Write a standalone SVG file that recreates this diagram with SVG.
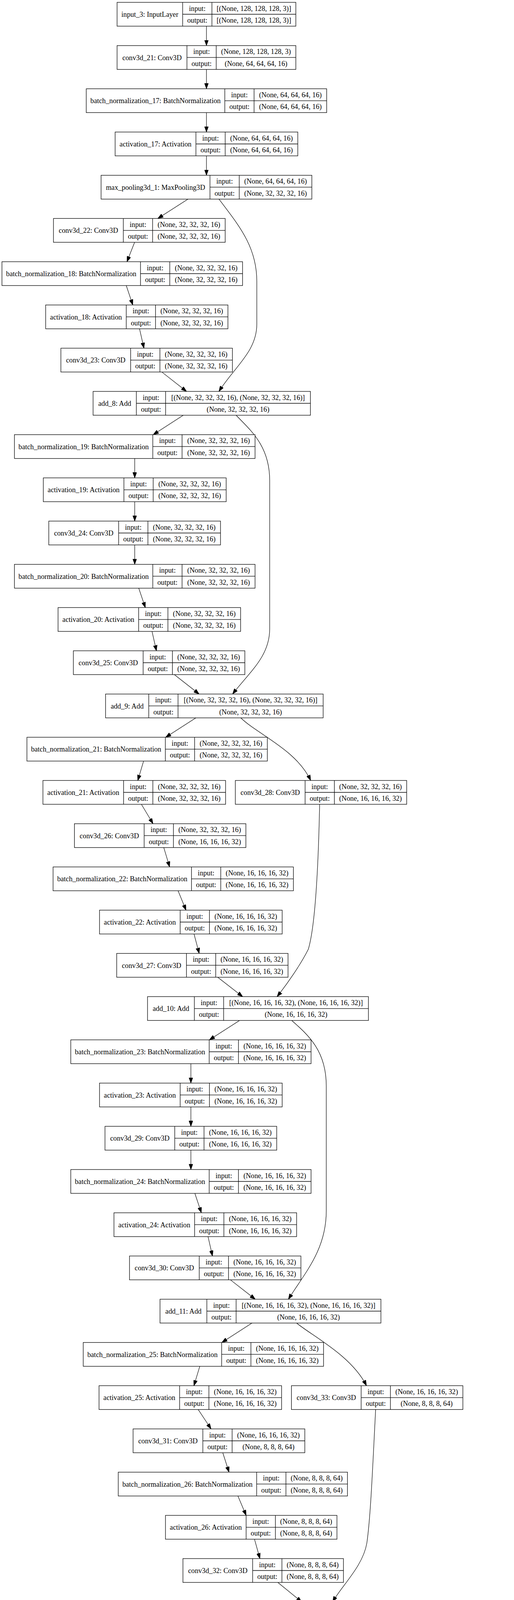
<svg xmlns="http://www.w3.org/2000/svg" width="1317" height="7045" viewBox="0 0 1317 7045">
<style>
.n rect{fill:#fff;stroke:#000;stroke-width:1.3}
.n path{fill:none;stroke:#000;stroke-width:1.3}
.e path{fill:none;stroke:#000;stroke-width:1.2;marker-end:url(#ah)}
text{font-family:"Liberation Serif","Times New Roman",serif;font-size:18.2px;text-anchor:middle;fill:#000}
</style>
<defs>
<marker id="ah" markerUnits="userSpaceOnUse" markerWidth="14" markerHeight="10" refX="14" refY="5" orient="auto" viewBox="0 0 14 10"><path d="M0,0L14,5L0,10z" fill="#000" stroke="#000" stroke-width="1"/></marker>
</defs>
<rect width="1317" height="7045" fill="#fff"/>
<g id="edges" class="e">
<path d="M529 67L529 116.7"/>
<path d="M529 177.7L529 227.3"/>
<path d="M529 288.3L529 338"/>
<path d="M529 399L529 448.7"/>
<path d="M481.6 509.7L404.4 559.3"/>
<path d="M344.9 620.3L325.3 670"/>
<path d="M323.5 731L340.2 780.7"/>
<path d="M357.5 841.7L368.8 891.4"/>
<path d="M414.7 952.4L478 1002"/>
<path d="M469.6 1063L392.6 1112.7"/>
<path d="M345.2 1173.7L345.2 1223.4"/>
<path d="M345.2 1284.4L345.2 1334"/>
<path d="M345.2 1395L345.2 1444.7"/>
<path d="M355.5 1505.7L372.3 1555.4"/>
<path d="M389.5 1616.4L400.8 1666"/>
<path d="M446.7 1727L510.2 1776.7"/>
<path d="M501.8 1837.7L424.5 1887.4"/>
<path d="M367.9 1948.4L353.1 1998"/>
<path d="M362.3 2059L392.1 2108.7"/>
<path d="M419.6 2169.7L434.6 2219.4"/>
<path d="M456.3 2280.4L476.6 2330"/>
<path d="M497.1 2391L510.4 2440.7"/>
<path d="M557.8 2501.7L621.7 2551.4"/>
<path d="M613.7 2612.4L536.5 2662"/>
<path d="M489.1 2723L489.1 2772.7"/>
<path d="M489.1 2833.7L489.1 2883.4"/>
<path d="M489.1 2944.4L489.1 2994"/>
<path d="M499.3 3055L515.9 3104.7"/>
<path d="M533 3165.7L544.4 3215.4"/>
<path d="M590.4 3276.4L654 3326"/>
<path d="M645.6 3387L568.5 3436.7"/>
<path d="M511.9 3497.7L496.9 3547.4"/>
<path d="M507.8 3608.4L540.8 3658"/>
<path d="M570.8 3719L586.8 3768.7"/>
<path d="M609.6 3829.7L630.7 3879.4"/>
<path d="M652.1 3940.4L665.9 3990"/>
<path d="M711.8 4051L772.9 4100.7"/>
<path d="M764.6 4161.7L690.2 4211.4"/>
<path d="M644.8 4272.4L644.8 4322"/>
<path d="M644.8 4383L644.8 4432.7"/>
<path d="M644.8 4493.7L644.8 4543.4"/>
<path d="M655 4604.4L672 4654"/>
<path d="M689.2 4715L700.4 4764.7"/>
<path d="M744.4 4825.7L804.8 4875.4"/>
<path d="M796.5 4936.4L722.5 4986"/>
<path d="M668.6 5047L654.8 5096.7"/>
<path d="M662.5 5157.7L688.9 5207.4"/>
<path d="M713.1 5268.4L726.1 5318"/>
<path d="M746.3 5379L766 5428.7"/>
<path d="M786.3 5489.7L799.5 5539.4"/>
<path d="M845.7 5600.4L905.9 5650"/>
<path d="M899.8 5711L824.4 5760.7"/>
<path d="M778.2 5821.7L778.2 5871.4"/>
<path d="M778.3 5932.4L778.3 5982"/>
<path d="M778.3 6043L778.3 6092.7"/>
<path d="M788.6 6153.7L805.6 6203.4"/>
<path d="M822.8 6264.4L834 6314"/>
<path d="M878.4 6375L939.6 6424.7"/>
<path d="M977 6485.7L977 6535.4"/>
<path d="M977 6596.4L977 6646"/>
<path d="M977 6707L977 6756.7"/>
<path d="M977 6817.7L977 6867.4"/>
<path d="M977 6928.4L977 6978"/>
<path d="M561 509.7C610 575 658 630 658 720L658 830C658 900 600 940 561 1002"/>
<path d="M605 1063C640 1100 691 1140 691 1230L691 1610C691 1680 640 1720 596 1776.7"/>
<path d="M617 1837.7C660 1880 760 1920 796 1998"/>
<path d="M819 2059C815 2250 805 2380 790 2430C770 2470 735 2520 710 2551.4"/>
<path d="M747.5 2612.4C790 2650 836 2690 836 2780L836 3100C836 3200 780 3260 739 3326"/>
<path d="M760 3387C800 3420 900 3470 939 3547.4"/>
<path d="M962.5 3608.4C955 3750 950 3880 940 3950C930 4010 875 4060 852.5 4100.7"/>
<path d="M893 4161.7C935 4200 978 4240 978 4320L978 4720C978 4790 920 4830 883.6 4875.4"/>
<path d="M907 4936.4C960 4980 1050 5030 1077.6 5096.7"/>
<path d="M1097 5157.7C1090 5300 1085 5450 1075 5530C1060 5590 1010 5620 989.4 5650"/>
<path d="M1029 5711C1070 5750 1115.4 5790 1115.4 5870L1115.4 6260C1115.4 6330 1050 6380 1019 6424.7"/>
</g>
<g id="input_3" class="n" transform="translate(0,6)"><rect x="300" y="0" width="458" height="61"/><path d="M468 0V61M543 0V61M468 30.5H758"/><text x="384" y="37">input_3: InputLayer</text><text x="505.5" y="21.5">input:</text><text x="505.5" y="52">output:</text><text x="650.5" y="21.5">[(None, 128, 128, 128, 3)]</text><text x="650.5" y="52">[(None, 128, 128, 128, 3)]</text></g>
<g id="conv3d_21" class="n" transform="translate(0,116.7)"><rect x="300" y="0" width="458" height="61"/><path d="M479 0V61M554 0V61M479 30.5H758"/><text x="389.5" y="37">conv3d_21: Conv3D</text><text x="516.5" y="21.5">input:</text><text x="516.5" y="52">output:</text><text x="656" y="21.5">(None, 128, 128, 128, 3)</text><text x="656" y="52">(None, 64, 64, 64, 16)</text></g>
<g id="batch_normalization_17" class="n" transform="translate(0,227.3)"><rect x="221" y="0" width="616" height="61"/><path d="M576 0V61M651 0V61M576 30.5H837"/><text x="398.5" y="37">batch_normalization_17: BatchNormalization</text><text x="613.5" y="21.5">input:</text><text x="613.5" y="52">output:</text><text x="744" y="21.5">(None, 64, 64, 64, 16)</text><text x="744" y="52">(None, 64, 64, 64, 16)</text></g>
<g id="activation_17" class="n" transform="translate(0,338)"><rect x="295" y="0" width="468" height="61"/><path d="M502 0V61M577 0V61M502 30.5H763"/><text x="398.5" y="37">activation_17: Activation</text><text x="539.5" y="21.5">input:</text><text x="539.5" y="52">output:</text><text x="670" y="21.5">(None, 64, 64, 64, 16)</text><text x="670" y="52">(None, 64, 64, 64, 16)</text></g>
<g id="max_pooling3d_1" class="n" transform="translate(0,448.7)"><rect x="259" y="0" width="540" height="61"/><path d="M538 0V61M613 0V61M538 30.5H799"/><text x="398.5" y="37">max_pooling3d_1: MaxPooling3D</text><text x="575.5" y="21.5">input:</text><text x="575.5" y="52">output:</text><text x="706" y="21.5">(None, 64, 64, 64, 16)</text><text x="706" y="52">(None, 32, 32, 32, 16)</text></g>
<g id="conv3d_22" class="n" transform="translate(0,559.3)"><rect x="137" y="0" width="440" height="61"/><path d="M316 0V61M391 0V61M316 30.5H577"/><text x="226.5" y="37">conv3d_22: Conv3D</text><text x="353.5" y="21.5">input:</text><text x="353.5" y="52">output:</text><text x="484" y="21.5">(None, 32, 32, 32, 16)</text><text x="484" y="52">(None, 32, 32, 32, 16)</text></g>
<g id="batch_normalization_18" class="n" transform="translate(0,670)"><rect x="5" y="0" width="616.5" height="61"/><path d="M360 0V61M435 0V61M360 30.5H621.5"/><text x="182.5" y="37">batch_normalization_18: BatchNormalization</text><text x="397.5" y="21.5">input:</text><text x="397.5" y="52">output:</text><text x="528.25" y="21.5">(None, 32, 32, 32, 16)</text><text x="528.25" y="52">(None, 32, 32, 32, 16)</text></g>
<g id="activation_18" class="n" transform="translate(0,780.7)"><rect x="117" y="0" width="467" height="61"/><path d="M323.5 0V61M398.5 0V61M323.5 30.5H584"/><text x="220.25" y="37">activation_18: Activation</text><text x="361" y="21.5">input:</text><text x="361" y="52">output:</text><text x="491.25" y="21.5">(None, 32, 32, 32, 16)</text><text x="491.25" y="52">(None, 32, 32, 32, 16)</text></g>
<g id="conv3d_23" class="n" transform="translate(0,891.4)"><rect x="156" y="0" width="439.5" height="61"/><path d="M334.7 0V61M409.7 0V61M334.7 30.5H595.5"/><text x="245.35" y="37">conv3d_23: Conv3D</text><text x="372.2" y="21.5">input:</text><text x="372.2" y="52">output:</text><text x="502.6" y="21.5">(None, 32, 32, 32, 16)</text><text x="502.6" y="52">(None, 32, 32, 32, 16)</text></g>
<g id="add_8" class="n" transform="translate(0,1002)"><rect x="238.5" y="0" width="556.9" height="61"/><path d="M349.4 0V61M424.4 0V61M349.4 30.5H795.4"/><text x="293.95" y="37">add_8: Add</text><text x="386.9" y="21.5">input:</text><text x="386.9" y="52">output:</text><text x="609.9" y="21.5">[(None, 32, 32, 32, 16), (None, 32, 32, 32, 16)]</text><text x="609.9" y="52">(None, 32, 32, 32, 16)</text></g>
<g id="batch_normalization_19" class="n" transform="translate(0,1112.7)"><rect x="37" y="0" width="616.5" height="61"/><path d="M391.5 0V61M466.5 0V61M391.5 30.5H653.5"/><text x="214.25" y="37">batch_normalization_19: BatchNormalization</text><text x="429" y="21.5">input:</text><text x="429" y="52">output:</text><text x="560" y="21.5">(None, 32, 32, 32, 16)</text><text x="560" y="52">(None, 32, 32, 32, 16)</text></g>
<g id="activation_19" class="n" transform="translate(0,1223.4)"><rect x="111" y="0" width="468.5" height="61"/><path d="M317.5 0V61M392.5 0V61M317.5 30.5H579.5"/><text x="214.25" y="37">activation_19: Activation</text><text x="355" y="21.5">input:</text><text x="355" y="52">output:</text><text x="486" y="21.5">(None, 32, 32, 32, 16)</text><text x="486" y="52">(None, 32, 32, 32, 16)</text></g>
<g id="conv3d_24" class="n" transform="translate(0,1334)"><rect x="125" y="0" width="440" height="61"/><path d="M304 0V61M379 0V61M304 30.5H565"/><text x="214.5" y="37">conv3d_24: Conv3D</text><text x="341.5" y="21.5">input:</text><text x="341.5" y="52">output:</text><text x="472" y="21.5">(None, 32, 32, 32, 16)</text><text x="472" y="52">(None, 32, 32, 32, 16)</text></g>
<g id="batch_normalization_20" class="n" transform="translate(0,1444.7)"><rect x="37" y="0" width="616.5" height="61"/><path d="M391.5 0V61M466.5 0V61M391.5 30.5H653.5"/><text x="214.25" y="37">batch_normalization_20: BatchNormalization</text><text x="429" y="21.5">input:</text><text x="429" y="52">output:</text><text x="560" y="21.5">(None, 32, 32, 32, 16)</text><text x="560" y="52">(None, 32, 32, 32, 16)</text></g>
<g id="activation_20" class="n" transform="translate(0,1555.4)"><rect x="148.7" y="0" width="467.8" height="61"/><path d="M355.3 0V61M430.3 0V61M355.3 30.5H616.5"/><text x="252" y="37">activation_20: Activation</text><text x="392.8" y="21.5">input:</text><text x="392.8" y="52">output:</text><text x="523.4" y="21.5">(None, 32, 32, 32, 16)</text><text x="523.4" y="52">(None, 32, 32, 32, 16)</text></g>
<g id="conv3d_25" class="n" transform="translate(0,1666)"><rect x="188" y="0" width="439.4" height="61"/><path d="M366.7 0V61M441.7 0V61M366.7 30.5H627.4"/><text x="277.35" y="37">conv3d_25: Conv3D</text><text x="404.2" y="21.5">input:</text><text x="404.2" y="52">output:</text><text x="534.55" y="21.5">(None, 32, 32, 32, 16)</text><text x="534.55" y="52">(None, 32, 32, 32, 16)</text></g>
<g id="add_9" class="n" transform="translate(0,1776.7)"><rect x="270.5" y="0" width="557.5" height="61"/><path d="M381.2 0V61M456.2 0V61M381.2 30.5H828"/><text x="325.85" y="37">add_9: Add</text><text x="418.7" y="21.5">input:</text><text x="418.7" y="52">output:</text><text x="642.1" y="21.5">[(None, 32, 32, 32, 16), (None, 32, 32, 32, 16)]</text><text x="642.1" y="52">(None, 32, 32, 32, 16)</text></g>
<g id="batch_normalization_21" class="n" transform="translate(0,1887.4)"><rect x="69" y="0" width="616" height="61"/><path d="M423.6 0V61M498.6 0V61M423.6 30.5H685"/><text x="246.3" y="37">batch_normalization_21: BatchNormalization</text><text x="461.1" y="21.5">input:</text><text x="461.1" y="52">output:</text><text x="591.8" y="21.5">(None, 32, 32, 32, 16)</text><text x="591.8" y="52">(None, 32, 32, 32, 16)</text></g>
<g id="activation_21" class="n" transform="translate(0,1998)"><rect x="110" y="0" width="468" height="61"/><path d="M316.6 0V61M391.6 0V61M316.6 30.5H578"/><text x="213.3" y="37">activation_21: Activation</text><text x="354.1" y="21.5">input:</text><text x="354.1" y="52">output:</text><text x="484.8" y="21.5">(None, 32, 32, 32, 16)</text><text x="484.8" y="52">(None, 32, 32, 32, 16)</text></g>
<g id="conv3d_28" class="n" transform="translate(0,1998)"><rect x="603" y="0" width="439" height="61"/><path d="M781.7 0V61M856.7 0V61M781.7 30.5H1042"/><text x="692.35" y="37">conv3d_28: Conv3D</text><text x="819.2" y="21.5">input:</text><text x="819.2" y="52">output:</text><text x="949.35" y="21.5">(None, 32, 32, 32, 16)</text><text x="949.35" y="52">(None, 16, 16, 16, 32)</text></g>
<g id="conv3d_26" class="n" transform="translate(0,2108.7)"><rect x="190.7" y="0" width="439.3" height="61"/><path d="M369.4 0V61M444.4 0V61M369.4 30.5H630"/><text x="280.05" y="37">conv3d_26: Conv3D</text><text x="406.9" y="21.5">input:</text><text x="406.9" y="52">output:</text><text x="537.2" y="21.5">(None, 32, 32, 32, 16)</text><text x="537.2" y="52">(None, 16, 16, 16, 32)</text></g>
<g id="batch_normalization_22" class="n" transform="translate(0,2219.4)"><rect x="136" y="0" width="615.7" height="61"/><path d="M490.6 0V61M565.6 0V61M490.6 30.5H751.7"/><text x="313.3" y="37">batch_normalization_22: BatchNormalization</text><text x="528.1" y="21.5">input:</text><text x="528.1" y="52">output:</text><text x="658.65" y="21.5">(None, 16, 16, 16, 32)</text><text x="658.65" y="52">(None, 16, 16, 16, 32)</text></g>
<g id="activation_22" class="n" transform="translate(0,2330)"><rect x="255" y="0" width="468" height="61"/><path d="M461.6 0V61M536.6 0V61M461.6 30.5H723"/><text x="358.3" y="37">activation_22: Activation</text><text x="499.1" y="21.5">input:</text><text x="499.1" y="52">output:</text><text x="629.8" y="21.5">(None, 16, 16, 16, 32)</text><text x="629.8" y="52">(None, 16, 16, 16, 32)</text></g>
<g id="conv3d_27" class="n" transform="translate(0,2440.7)"><rect x="299" y="0" width="439" height="61"/><path d="M477.7 0V61M552.7 0V61M477.7 30.5H738"/><text x="388.35" y="37">conv3d_27: Conv3D</text><text x="515.2" y="21.5">input:</text><text x="515.2" y="52">output:</text><text x="645.35" y="21.5">(None, 16, 16, 16, 32)</text><text x="645.35" y="52">(None, 16, 16, 16, 32)</text></g>
<g id="add_10" class="n" transform="translate(0,2551.4)"><rect x="378" y="0" width="566" height="61"/><path d="M498 0V61M573 0V61M498 30.5H944"/><text x="438" y="37">add_10: Add</text><text x="535.5" y="21.5">input:</text><text x="535.5" y="52">output:</text><text x="758.5" y="21.5">[(None, 16, 16, 16, 32), (None, 16, 16, 16, 32)]</text><text x="758.5" y="52">(None, 16, 16, 16, 32)</text></g>
<g id="batch_normalization_23" class="n" transform="translate(0,2662)"><rect x="181.4" y="0" width="615.6" height="61"/><path d="M536 0V61M611 0V61M536 30.5H797"/><text x="358.7" y="37">batch_normalization_23: BatchNormalization</text><text x="573.5" y="21.5">input:</text><text x="573.5" y="52">output:</text><text x="704" y="21.5">(None, 16, 16, 16, 32)</text><text x="704" y="52">(None, 16, 16, 16, 32)</text></g>
<g id="activation_23" class="n" transform="translate(0,2772.7)"><rect x="255" y="0" width="468" height="61"/><path d="M461.6 0V61M536.6 0V61M461.6 30.5H723"/><text x="358.3" y="37">activation_23: Activation</text><text x="499.1" y="21.5">input:</text><text x="499.1" y="52">output:</text><text x="629.8" y="21.5">(None, 16, 16, 16, 32)</text><text x="629.8" y="52">(None, 16, 16, 16, 32)</text></g>
<g id="conv3d_29" class="n" transform="translate(0,2883.4)"><rect x="269" y="0" width="440" height="61"/><path d="M447.7 0V61M522.7 0V61M447.7 30.5H709"/><text x="358.35" y="37">conv3d_29: Conv3D</text><text x="485.2" y="21.5">input:</text><text x="485.2" y="52">output:</text><text x="615.85" y="21.5">(None, 16, 16, 16, 32)</text><text x="615.85" y="52">(None, 16, 16, 16, 32)</text></g>
<g id="batch_normalization_24" class="n" transform="translate(0,2994)"><rect x="181.4" y="0" width="615.6" height="61"/><path d="M536 0V61M611 0V61M536 30.5H797"/><text x="358.7" y="37">batch_normalization_24: BatchNormalization</text><text x="573.5" y="21.5">input:</text><text x="573.5" y="52">output:</text><text x="704" y="21.5">(None, 16, 16, 16, 32)</text><text x="704" y="52">(None, 16, 16, 16, 32)</text></g>
<g id="activation_24" class="n" transform="translate(0,3104.7)"><rect x="292" y="0" width="468" height="61"/><path d="M498.6 0V61M573.6 0V61M498.6 30.5H760"/><text x="395.3" y="37">activation_24: Activation</text><text x="536.1" y="21.5">input:</text><text x="536.1" y="52">output:</text><text x="666.8" y="21.5">(None, 16, 16, 16, 32)</text><text x="666.8" y="52">(None, 16, 16, 16, 32)</text></g>
<g id="conv3d_30" class="n" transform="translate(0,3215.4)"><rect x="331.8" y="0" width="439.2" height="61"/><path d="M510.5 0V61M585.5 0V61M510.5 30.5H771"/><text x="421.15" y="37">conv3d_30: Conv3D</text><text x="548" y="21.5">input:</text><text x="548" y="52">output:</text><text x="678.25" y="21.5">(None, 16, 16, 16, 32)</text><text x="678.25" y="52">(None, 16, 16, 16, 32)</text></g>
<g id="add_11" class="n" transform="translate(0,3326)"><rect x="410" y="0" width="566" height="61"/><path d="M530 0V61M605 0V61M530 30.5H976"/><text x="470" y="37">add_11: Add</text><text x="567.5" y="21.5">input:</text><text x="567.5" y="52">output:</text><text x="790.5" y="21.5">[(None, 16, 16, 16, 32), (None, 16, 16, 16, 32)]</text><text x="790.5" y="52">(None, 16, 16, 16, 32)</text></g>
<g id="batch_normalization_25" class="n" transform="translate(0,3436.7)"><rect x="213.3" y="0" width="615.7" height="61"/><path d="M567.9 0V61M642.9 0V61M567.9 30.5H829"/><text x="390.6" y="37">batch_normalization_25: BatchNormalization</text><text x="605.4" y="21.5">input:</text><text x="605.4" y="52">output:</text><text x="735.95" y="21.5">(None, 16, 16, 16, 32)</text><text x="735.95" y="52">(None, 16, 16, 16, 32)</text></g>
<g id="activation_25" class="n" transform="translate(0,3547.4)"><rect x="253.7" y="0" width="467.8" height="61"/><path d="M460.3 0V61M535.3 0V61M460.3 30.5H721.5"/><text x="357" y="37">activation_25: Activation</text><text x="497.8" y="21.5">input:</text><text x="497.8" y="52">output:</text><text x="628.4" y="21.5">(None, 16, 16, 16, 32)</text><text x="628.4" y="52">(None, 16, 16, 16, 32)</text></g>
<g id="conv3d_33" class="n" transform="translate(0,3547.4)"><rect x="746.7" y="0" width="439.3" height="61"/><path d="M925.4 0V61M1000.4 0V61M925.4 30.5H1186"/><text x="836.05" y="37">conv3d_33: Conv3D</text><text x="962.9" y="21.5">input:</text><text x="962.9" y="52">output:</text><text x="1093.2" y="21.5">(None, 16, 16, 16, 32)</text><text x="1093.2" y="52">(None, 8, 8, 8, 64)</text></g>
<g id="conv3d_31" class="n" transform="translate(0,3658)"><rect x="341" y="0" width="440" height="61"/><path d="M519.7 0V61M594.7 0V61M519.7 30.5H781"/><text x="430.35" y="37">conv3d_31: Conv3D</text><text x="557.2" y="21.5">input:</text><text x="557.2" y="52">output:</text><text x="687.85" y="21.5">(None, 16, 16, 16, 32)</text><text x="687.85" y="52">(None, 8, 8, 8, 64)</text></g>
<g id="batch_normalization_26" class="n" transform="translate(0,3768.7)"><rect x="303" y="0" width="587.3" height="61"/><path d="M657.6 0V61M732.6 0V61M657.6 30.5H890.3"/><text x="480.3" y="37">batch_normalization_26: BatchNormalization</text><text x="695.1" y="21.5">input:</text><text x="695.1" y="52">output:</text><text x="811.45" y="21.5">(None, 8, 8, 8, 64)</text><text x="811.45" y="52">(None, 8, 8, 8, 64)</text></g>
<g id="activation_26" class="n" transform="translate(0,3879.4)"><rect x="424" y="0" width="439.4" height="61"/><path d="M630.6 0V61M705.6 0V61M630.6 30.5H863.4"/><text x="527.3" y="37">activation_26: Activation</text><text x="668.1" y="21.5">input:</text><text x="668.1" y="52">output:</text><text x="784.5" y="21.5">(None, 8, 8, 8, 64)</text><text x="784.5" y="52">(None, 8, 8, 8, 64)</text></g>
<g id="conv3d_32" class="n" transform="translate(0,3990)"><rect x="468.7" y="0" width="411.3" height="61"/><path d="M647.4 0V61M722.4 0V61M647.4 30.5H880"/><text x="558.05" y="37">conv3d_32: Conv3D</text><text x="684.9" y="21.5">input:</text><text x="684.9" y="52">output:</text><text x="801.2" y="21.5">(None, 8, 8, 8, 64)</text><text x="801.2" y="52">(None, 8, 8, 8, 64)</text></g>
<g id="add_12" class="n" transform="translate(0,4100.7)"><rect x="554" y="0" width="512.7" height="61"/><path d="M673.6 0V61M748.6 0V61M673.6 30.5H1066.7"/><text x="613.8" y="37">add_12: Add</text><text x="711.1" y="21.5">input:</text><text x="711.1" y="52">output:</text><text x="907.65" y="21.5">[(None, 8, 8, 8, 64), (None, 8, 8, 8, 64)]</text><text x="907.65" y="52">(None, 8, 8, 8, 64)</text></g>
<g id="batch_normalization_27" class="n" transform="translate(0,4211.4)"><rect x="351" y="0" width="587" height="61"/><path d="M705.6 0V61M780.6 0V61M705.6 30.5H938"/><text x="528.3" y="37">batch_normalization_27: BatchNormalization</text><text x="743.1" y="21.5">input:</text><text x="743.1" y="52">output:</text><text x="859.3" y="21.5">(None, 8, 8, 8, 64)</text><text x="859.3" y="52">(None, 8, 8, 8, 64)</text></g>
<g id="activation_27" class="n" transform="translate(0,4322)"><rect x="425.8" y="0" width="438.5" height="61"/><path d="M632.4 0V61M707.4 0V61M632.4 30.5H864.3"/><text x="529.1" y="37">activation_27: Activation</text><text x="669.9" y="21.5">input:</text><text x="669.9" y="52">output:</text><text x="785.85" y="21.5">(None, 8, 8, 8, 64)</text><text x="785.85" y="52">(None, 8, 8, 8, 64)</text></g>
<g id="conv3d_34" class="n" transform="translate(0,4432.7)"><rect x="439" y="0" width="412" height="61"/><path d="M617.7 0V61M692.7 0V61M617.7 30.5H851"/><text x="528.35" y="37">conv3d_34: Conv3D</text><text x="655.2" y="21.5">input:</text><text x="655.2" y="52">output:</text><text x="771.85" y="21.5">(None, 8, 8, 8, 64)</text><text x="771.85" y="52">(None, 8, 8, 8, 64)</text></g>
<g id="batch_normalization_28" class="n" transform="translate(0,4543.4)"><rect x="351" y="0" width="587" height="61"/><path d="M705.6 0V61M780.6 0V61M705.6 30.5H938"/><text x="528.3" y="37">batch_normalization_28: BatchNormalization</text><text x="743.1" y="21.5">input:</text><text x="743.1" y="52">output:</text><text x="859.3" y="21.5">(None, 8, 8, 8, 64)</text><text x="859.3" y="52">(None, 8, 8, 8, 64)</text></g>
<g id="activation_28" class="n" transform="translate(0,4654)"><rect x="462.8" y="0" width="439.2" height="61"/><path d="M669.4 0V61M744.4 0V61M669.4 30.5H902"/><text x="566.1" y="37">activation_28: Activation</text><text x="706.9" y="21.5">input:</text><text x="706.9" y="52">output:</text><text x="823.2" y="21.5">(None, 8, 8, 8, 64)</text><text x="823.2" y="52">(None, 8, 8, 8, 64)</text></g>
<g id="conv3d_35" class="n" transform="translate(0,4764.7)"><rect x="501.4" y="0" width="411.6" height="61"/><path d="M680.1 0V61M755.1 0V61M680.1 30.5H913"/><text x="590.75" y="37">conv3d_35: Conv3D</text><text x="717.6" y="21.5">input:</text><text x="717.6" y="52">output:</text><text x="834.05" y="21.5">(None, 8, 8, 8, 64)</text><text x="834.05" y="52">(None, 8, 8, 8, 64)</text></g>
<g id="add_13" class="n" transform="translate(0,4875.4)"><rect x="585.4" y="0" width="513.2" height="61"/><path d="M705.4 0V61M780.4 0V61M705.4 30.5H1098.6"/><text x="645.4" y="37">add_13: Add</text><text x="742.9" y="21.5">input:</text><text x="742.9" y="52">output:</text><text x="939.5" y="21.5">[(None, 8, 8, 8, 64), (None, 8, 8, 8, 64)]</text><text x="939.5" y="52">(None, 8, 8, 8, 64)</text></g>
<g id="batch_normalization_29" class="n" transform="translate(0,4986)"><rect x="383" y="0" width="588" height="61"/><path d="M737.6 0V61M812.6 0V61M737.6 30.5H971"/><text x="560.3" y="37">batch_normalization_29: BatchNormalization</text><text x="775.1" y="21.5">input:</text><text x="775.1" y="52">output:</text><text x="891.8" y="21.5">(None, 8, 8, 8, 64)</text><text x="891.8" y="52">(None, 8, 8, 8, 64)</text></g>
<g id="activation_29" class="n" transform="translate(0,5096.7)"><rect x="426.7" y="0" width="439.3" height="61"/><path d="M633.3 0V61M708.3 0V61M633.3 30.5H866"/><text x="530" y="37">activation_29: Activation</text><text x="670.8" y="21.5">input:</text><text x="670.8" y="52">output:</text><text x="787.15" y="21.5">(None, 8, 8, 8, 64)</text><text x="787.15" y="52">(None, 8, 8, 8, 64)</text></g>
<g id="conv3d_38" class="n" transform="translate(0,5096.7)"><rect x="890.3" y="0" width="421.7" height="61"/><path d="M1069 0V61M1144 0V61M1069 30.5H1312"/><text x="979.65" y="37">conv3d_38: Conv3D</text><text x="1106.5" y="21.5">input:</text><text x="1106.5" y="52">output:</text><text x="1228" y="21.5">(None, 8, 8, 8, 64)</text><text x="1228" y="52">(None, 4, 4, 4, 128)</text></g>
<g id="conv3d_36" class="n" transform="translate(0,5207.4)"><rect x="494.7" y="0" width="420.8" height="61"/><path d="M673.4 0V61M748.4 0V61M673.4 30.5H915.5"/><text x="584.05" y="37">conv3d_36: Conv3D</text><text x="710.9" y="21.5">input:</text><text x="710.9" y="52">output:</text><text x="831.95" y="21.5">(None, 8, 8, 8, 64)</text><text x="831.95" y="52">(None, 4, 4, 4, 128)</text></g>
<g id="batch_normalization_30" class="n" transform="translate(0,5318)"><rect x="436" y="0" width="596.3" height="61"/><path d="M790.6 0V61M865.6 0V61M790.6 30.5H1032.3"/><text x="613.3" y="37">batch_normalization_30: BatchNormalization</text><text x="828.1" y="21.5">input:</text><text x="828.1" y="52">output:</text><text x="948.95" y="21.5">(None, 4, 4, 4, 128)</text><text x="948.95" y="52">(None, 4, 4, 4, 128)</text></g>
<g id="activation_30" class="n" transform="translate(0,5428.7)"><rect x="553.5" y="0" width="449.3" height="61"/><path d="M760.1 0V61M835.1 0V61M760.1 30.5H1002.8"/><text x="656.8" y="37">activation_30: Activation</text><text x="797.6" y="21.5">input:</text><text x="797.6" y="52">output:</text><text x="918.95" y="21.5">(None, 4, 4, 4, 128)</text><text x="918.95" y="52">(None, 4, 4, 4, 128)</text></g>
<g id="conv3d_37" class="n" transform="translate(0,5539.4)"><rect x="597.2" y="0" width="420.8" height="61"/><path d="M775.9 0V61M850.9 0V61M775.9 30.5H1018"/><text x="686.55" y="37">conv3d_37: Conv3D</text><text x="813.4" y="21.5">input:</text><text x="813.4" y="52">output:</text><text x="934.45" y="21.5">(None, 4, 4, 4, 128)</text><text x="934.45" y="52">(None, 4, 4, 4, 128)</text></g>
<g id="add_14" class="n" transform="translate(0,5650)"><rect x="681" y="0" width="530" height="61"/><path d="M801.6 0V61M876.6 0V61M801.6 30.5H1211"/><text x="741.3" y="37">add_14: Add</text><text x="839.1" y="21.5">input:</text><text x="839.1" y="52">output:</text><text x="1043.8" y="21.5">[(None, 4, 4, 4, 128), (None, 4, 4, 4, 128)]</text><text x="1043.8" y="52">(None, 4, 4, 4, 128)</text></g>
<g id="batch_normalization_31" class="n" transform="translate(0,5760.7)"><rect x="479.6" y="0" width="597.2" height="61"/><path d="M834.2 0V61M909.2 0V61M834.2 30.5H1076.8"/><text x="656.9" y="37">batch_normalization_31: BatchNormalization</text><text x="871.7" y="21.5">input:</text><text x="871.7" y="52">output:</text><text x="993" y="21.5">(None, 4, 4, 4, 128)</text><text x="993" y="52">(None, 4, 4, 4, 128)</text></g>
<g id="activation_31" class="n" transform="translate(0,5871.4)"><rect x="553.5" y="0" width="449.3" height="61"/><path d="M760.1 0V61M835.1 0V61M760.1 30.5H1002.8"/><text x="656.8" y="37">activation_31: Activation</text><text x="797.6" y="21.5">input:</text><text x="797.6" y="52">output:</text><text x="918.95" y="21.5">(None, 4, 4, 4, 128)</text><text x="918.95" y="52">(None, 4, 4, 4, 128)</text></g>
<g id="conv3d_39" class="n" transform="translate(0,5982)"><rect x="567.8" y="0" width="421.6" height="61"/><path d="M746.5 0V61M821.5 0V61M746.5 30.5H989.4"/><text x="657.15" y="37">conv3d_39: Conv3D</text><text x="784" y="21.5">input:</text><text x="784" y="52">output:</text><text x="905.45" y="21.5">(None, 4, 4, 4, 128)</text><text x="905.45" y="52">(None, 4, 4, 4, 128)</text></g>
<g id="batch_normalization_32" class="n" transform="translate(0,6092.7)"><rect x="479.6" y="0" width="597.2" height="61"/><path d="M834.2 0V61M909.2 0V61M834.2 30.5H1076.8"/><text x="656.9" y="37">batch_normalization_32: BatchNormalization</text><text x="871.7" y="21.5">input:</text><text x="871.7" y="52">output:</text><text x="993" y="21.5">(None, 4, 4, 4, 128)</text><text x="993" y="52">(None, 4, 4, 4, 128)</text></g>
<g id="activation_32" class="n" transform="translate(0,6203.4)"><rect x="591.3" y="0" width="449.4" height="61"/><path d="M797.9 0V61M872.9 0V61M797.9 30.5H1040.7"/><text x="694.6" y="37">activation_32: Activation</text><text x="835.4" y="21.5">input:</text><text x="835.4" y="52">output:</text><text x="956.8" y="21.5">(None, 4, 4, 4, 128)</text><text x="956.8" y="52">(None, 4, 4, 4, 128)</text></g>
<g id="conv3d_40" class="n" transform="translate(0,6314)"><rect x="630" y="0" width="421.6" height="61"/><path d="M808.7 0V61M883.7 0V61M808.7 30.5H1051.6"/><text x="719.35" y="37">conv3d_40: Conv3D</text><text x="846.2" y="21.5">input:</text><text x="846.2" y="52">output:</text><text x="967.65" y="21.5">(None, 4, 4, 4, 128)</text><text x="967.65" y="52">(None, 4, 4, 4, 128)</text></g>
<g id="add_15" class="n" transform="translate(0,6424.7)"><rect x="712.3" y="0" width="529.9" height="61"/><path d="M831.9 0V61M906.9 0V61M831.9 30.5H1242.2"/><text x="772.1" y="37">add_15: Add</text><text x="869.4" y="21.5">input:</text><text x="869.4" y="52">output:</text><text x="1074.55" y="21.5">[(None, 4, 4, 4, 128), (None, 4, 4, 4, 128)]</text><text x="1074.55" y="52">(None, 4, 4, 4, 128)</text></g>
<g id="batch_normalization_33" class="n" transform="translate(0,6535.4)"><rect x="678.7" y="0" width="597.1" height="61"/><path d="M1033.3 0V61M1108.3 0V61M1033.3 30.5H1275.8"/><text x="856" y="37">batch_normalization_33: BatchNormalization</text><text x="1070.8" y="21.5">input:</text><text x="1070.8" y="52">output:</text><text x="1192.05" y="21.5">(None, 4, 4, 4, 128)</text><text x="1192.05" y="52">(None, 4, 4, 4, 128)</text></g>
<g id="activation_33" class="n" transform="translate(0,6646)"><rect x="752.6" y="0" width="448.4" height="61"/><path d="M959.2 0V61M1034.2 0V61M959.2 30.5H1201"/><text x="855.9" y="37">activation_33: Activation</text><text x="996.7" y="21.5">input:</text><text x="996.7" y="52">output:</text><text x="1117.6" y="21.5">(None, 4, 4, 4, 128)</text><text x="1117.6" y="52">(None, 4, 4, 4, 128)</text></g>
<g id="average_pooling3d_1" class="n" transform="translate(0,6756.7)"><rect x="691.3" y="0" width="571.9" height="61"/><path d="M1021.3 0V61M1096.3 0V61M1021.3 30.5H1263.2"/><text x="856.3" y="37">average_pooling3d_1: AveragePooling3D</text><text x="1058.8" y="21.5">input:</text><text x="1058.8" y="52">output:</text><text x="1179.75" y="21.5">(None, 4, 4, 4, 128)</text><text x="1179.75" y="52">(None, 1, 1, 1, 128)</text></g>
<g id="flatten_1" class="n" transform="translate(0,6867.4)"><rect x="782.8" y="0" width="387.2" height="61"/><path d="M928 0V61M1003 0V61M928 30.5H1170"/><text x="855.4" y="37">flatten_1: Flatten</text><text x="965.5" y="21.5">input:</text><text x="965.5" y="52">output:</text><text x="1086.5" y="21.5">(None, 1, 1, 1, 128)</text><text x="1086.5" y="52">(None, 128)</text></g>
<g id="dense_1" class="n" transform="translate(0,6978)"><rect x="814.7" y="0" width="323.3" height="61"/><path d="M954.2 0V61M1029.2 0V61M954.2 30.5H1138"/><text x="884.45" y="37">dense_1: Dense</text><text x="991.7" y="21.5">input:</text><text x="991.7" y="52">output:</text><text x="1083.6" y="21.5">(None, 128)</text><text x="1083.6" y="52">(None, 2)</text></g>
</svg>
